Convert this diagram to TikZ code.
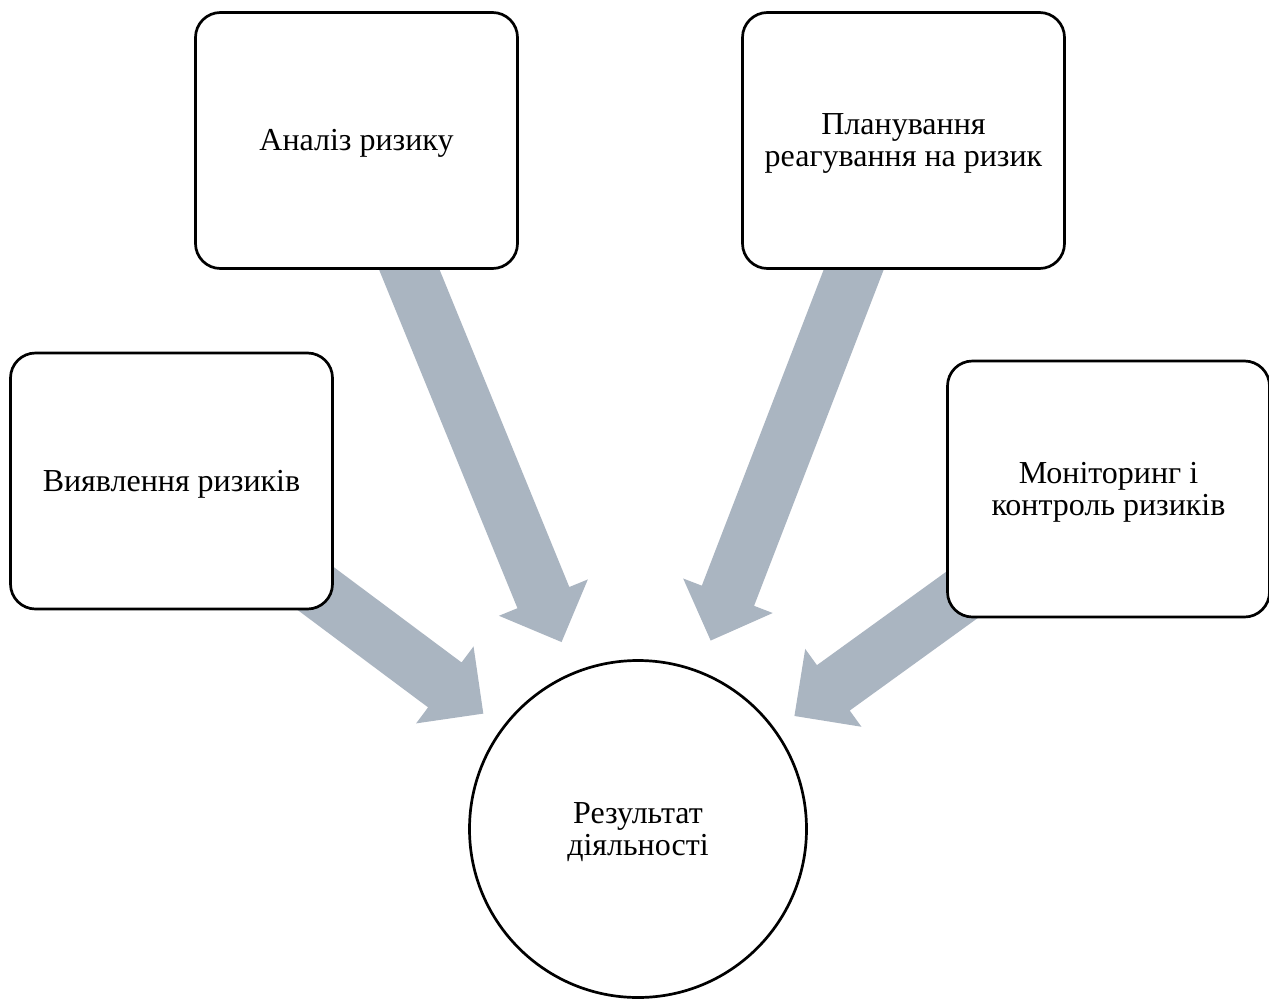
\documentclass[tikz,border=0pt]{standalone}
\usepackage{fontspec}
\setmainfont{Liberation Serif}
\usetikzlibrary{calc,backgrounds}
\definecolor{arrowgray}{HTML}{AAB5C1}
\newcommand\topstr{\rule{0pt}{28pt}}
\newcommand\botstr{\rule[-8pt]{0pt}{8pt}}
\tikzset{
  stepbox/.style={draw, line width=2.7pt, rounded corners=25pt, fill=white,
    minimum width=322pt, minimum height=256pt, align=center, inner sep=0pt,
    font=\fontsize{32}{32}\selectfont},
  resultcircle/.style={circle, draw, line width=2.7pt, fill=white,
    minimum size=337pt, align=center, inner sep=0pt,
    font=\fontsize{32}{32}\selectfont},
  blockarrow/.style={fill=arrowgray}
}
\newcommand\blockarr[2]{%
  \coordinate (h) at ($(#2)!48pt!(#1)$);
  \fill[blockarrow] ($(#1)!28pt!90:(#2)$) -- ($(h)!28pt!90:(#2)$) -- ($(h)!48pt!90:(#2)$)
    -- (#2) -- ($(h)!48pt!-90:(#2)$) -- ($(h)!28pt!-90:(#2)$) -- ($(#1)!28pt!-90:(#2)$) -- cycle;
}
\begin{document}
\begin{tikzpicture}[x=1pt,y=-1pt]
\useasboundingbox (0,0) rectangle (1269,999);
\node[stepbox] (A) at (356.5,140.5) {\topstr Аналіз ризику\botstr};
\node[stepbox] (B) at (903.5,140.5) {\topstr Планування\\реагування на ризик\botstr};
\node[stepbox] (C) at (171.5,481) {\topstr Виявлення ризиків\botstr};
\node[stepbox] (D) at (1108.5,489) {\topstr Моніторинг і\\контроль ризиків\botstr};
\node[resultcircle] (R) at (638,829) {\topstr Результат\\діяльності\botstr};
\coordinate (tA) at ($(R.center)!202pt!(A.center)$);
\coordinate (tB) at ($(R.center)!202pt!(B.center)$);
\coordinate (tC) at ($(R.center)!193pt!(C.center)$);
\coordinate (tD) at ($(R.center)!193pt!(D.center)$);
\begin{scope}[on background layer]
\fill[white] (0,0) rectangle (1269,999);
\blockarr{A.center}{tA}
\blockarr{B.center}{tB}
\blockarr{C.center}{tC}
\blockarr{D.center}{tD}
\end{scope}
\end{tikzpicture}
\end{document}
